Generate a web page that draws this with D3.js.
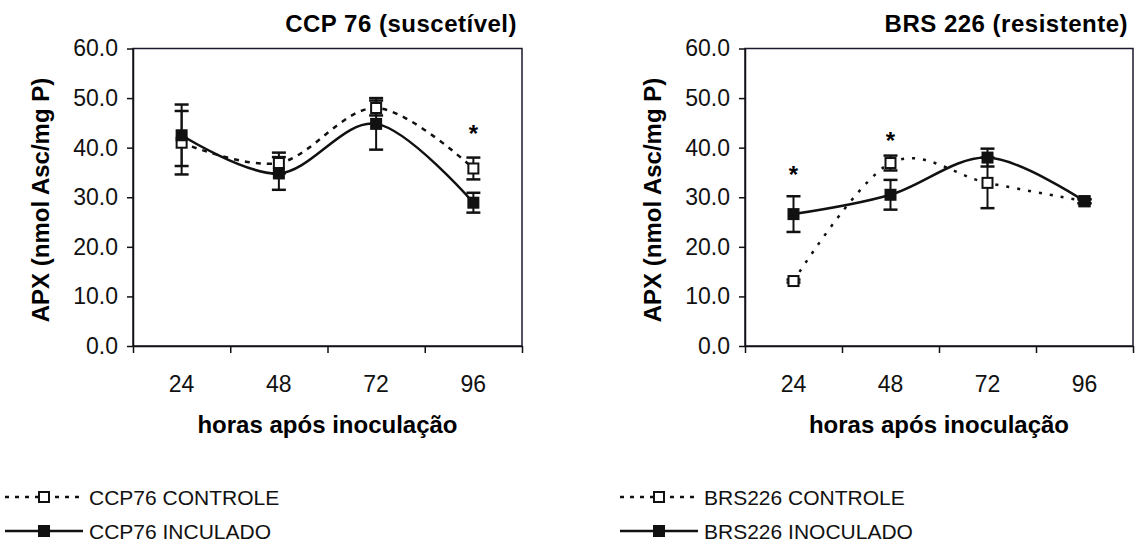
<!DOCTYPE html>
<html>
<head>
<meta charset="utf-8">
<script src="https://cdn.jsdelivr.net/npm/d3@7"></script>
<style>
  body { margin: 0; background: #fff; }
  svg { display: block; font-family: "Liberation Sans", Arial, sans-serif; }
</style>
</head>
<body>
<div id="chart"></div>
<script>
// categories and ticks
const hours = ["24", "48", "72", "96"];
const yTicks = [0, 10, 20, 30, 40, 50, 60];

// CCP 76 (suscetivel)
const ccpControle = [41.0, 36.9, 48.0, 35.8];
const ccpControleErr = [6.4, 2.1, 1.5, 2.2];
const ccpInoculado = [42.5, 34.8, 44.8, 28.9];
const ccpInoculadoErr = [6.2, 3.3, 5.2, 2.0];
const ccpStars = [null, null, null, 44.0];

// BRS 226 (resistente)
const brsControle = [13.1, 36.9, 32.9, 29.2];
const brsControleErr = [0.3, 1.5, 5.1, 0.4];
const brsInoculado = [26.6, 30.5, 38.0, 29.2];
const brsInoculadoErr = [3.6, 3.0, 1.8, 0.4];
const brsStars = [35.7, 42.6, null, null];

const width = 1142, height = 544;
const plotTop = 48.5, plotBottom = 346;

var svg = d3.select("#chart")
  .append("svg")
    .attr("width", width)
    .attr("height", height);

var draw_panel = function(cfg) {
  var g = svg.append("g");

  var x = d3.scaleBand().domain(hours).range([cfg.left, cfg.right]);
  var xTicks = d3.scaleLinear().domain([0, hours.length]).range([cfg.left, cfg.right]);
  var y = d3.scaleLinear().domain([0, 60]).range([plotBottom, plotTop]);

  // plot area border
  g.append("rect")
    .attr("x", cfg.left)
    .attr("y", plotTop)
    .attr("width", cfg.right - cfg.left)
    .attr("height", plotBottom - plotTop)
    .attr("fill", "none")
    .attr("stroke", "#1a1a2e")
    .attr("stroke-width", 1.5);

  // y axis
  var yAxis = g.append("g")
    .attr("transform", "translate(" + cfg.left + ",0)")
    .call(d3.axisLeft(y).tickValues(yTicks).tickFormat(d3.format(".1f")).tickSize(6).tickPadding(9).tickSizeOuter(0));
  yAxis.selectAll("text").style("font-size", "23px").attr("fill", "#111");
  yAxis.selectAll("line, path").attr("stroke", "#111").attr("stroke-width", 1.5);

  // x axis: tick marks between categories
  var xAxis = g.append("g")
    .attr("transform", "translate(0," + plotBottom + ")")
    .call(d3.axisBottom(xTicks).ticks(hours.length).tickFormat("").tickSize(7).tickSizeOuter(0));
  xAxis.selectAll("line, path").attr("stroke", "#111").attr("stroke-width", 1.5);

  // x labels at band centres
  var xLab = g.append("g")
    .attr("transform", "translate(0," + plotBottom + ")")
    .call(d3.axisBottom(x).tickSize(0).tickPadding(30));
  xLab.select(".domain").remove();
  xLab.selectAll("text").style("font-size", "23px").attr("fill", "#111");

  // titles
  g.append("text")
    .attr("x", cfg.right - 5)
    .attr("y", 32)
    .attr("text-anchor", "end")
    .style("font-size", "24px")
    .style("font-weight", "bold")
    .style("letter-spacing", "0.5px")
    .text(cfg.title);

  g.append("text")
    .attr("x", (cfg.left + cfg.right) / 2)
    .attr("y", 433)
    .attr("text-anchor", "middle")
    .style("font-size", "24px")
    .style("font-weight", "bold")
    .text("horas após inoculação");

  g.append("text")
    .attr("transform", "translate(" + (cfg.left - 84) + "," + 200 + ")rotate(-90)")
    .attr("text-anchor", "middle")
    .style("font-size", "24px")
    .style("font-weight", "bold")
    .text("APX (nmol Asc/mg P)");

  var cx = function(i) { return x(hours[i]) + x.bandwidth() / 2; };

  var line = d3.line()
    .curve(d3.curveCardinal.tension(0))
    .x(function(d, i) { return cx(i); })
    .y(function(d) { return y(d); });

  // series
  var series = [
    {vals: cfg.controle, err: cfg.controleErr, dash: cfg.dash, filled: false},
    {vals: cfg.inoculado, err: cfg.inoculadoErr, dash: null, filled: true}
  ];

  series.forEach(function(s) {
    g.append("path")
      .datum(s.vals)
      .attr("fill", "none")
      .attr("stroke", "#111")
      .attr("stroke-width", 2.5)
      .attr("stroke-dasharray", s.dash)
      .attr("d", line);
  });

  series.forEach(function(s) {
    var eb = g.append("g");
    s.vals.forEach(function(v, i) {
      var e = s.err[i];
      eb.append("line")
        .attr("x1", cx(i)).attr("x2", cx(i))
        .attr("y1", y(v + e)).attr("y2", y(v - e))
        .attr("stroke", "#111").attr("stroke-width", 2);
      [v + e, v - e].forEach(function(c) {
        eb.append("line")
          .attr("x1", cx(i) - 7).attr("x2", cx(i) + 7)
          .attr("y1", y(c)).attr("y2", y(c))
          .attr("stroke", "#111").attr("stroke-width", 2.5);
      });
    });
  });

  series.forEach(function(s) {
    g.append("g")
      .selectAll("rect")
      .data(s.vals)
      .enter()
      .append("rect")
        .attr("x", function(d, i) { return cx(i) - (s.filled ? 6 : 5); })
        .attr("y", function(d) { return y(d) - (s.filled ? 6 : 5); })
        .attr("width", s.filled ? 12 : 10)
        .attr("height", s.filled ? 12 : 10)
        .attr("fill", s.filled ? "#111" : "#fff")
        .attr("stroke", "#111")
        .attr("stroke-width", s.filled ? 0 : 2);
  });

  // significance asterisks
  var stars = cfg.stars
    .map(function(v, i) { return {v: v, i: i}; })
    .filter(function(d) { return d.v !== null; });
  g.append("g")
    .selectAll("text")
    .data(stars)
    .enter()
    .append("text")
      .attr("x", function(d) { return cx(d.i); })
      .attr("y", function(d) { return y(d.v) + 14; })
      .attr("text-anchor", "middle")
      .style("font-size", "24px")
      .style("font-weight", "bold")
      .text("*");

  // legend
  var lg = svg.append("g").attr("transform", "translate(" + cfg.legendX + ",0)");
  var rows = [
    {label: cfg.legend[0], dash: "4,6", filled: false, y: 497},
    {label: cfg.legend[1], dash: null, filled: true, y: 531}
  ];
  rows.forEach(function(r) {
    lg.append("line")
      .attr("x1", 0).attr("x2", 78)
      .attr("y1", r.y).attr("y2", r.y)
      .attr("stroke", "#111")
      .attr("stroke-width", 2.5)
      .attr("stroke-dasharray", r.dash);
    lg.append("rect")
      .attr("x", 39 - (r.filled ? 6 : 5))
      .attr("y", r.y - (r.filled ? 6 : 5))
      .attr("width", r.filled ? 12 : 10)
      .attr("height", r.filled ? 12 : 10)
      .attr("fill", r.filled ? "#111" : "#fff")
      .attr("stroke", "#111")
      .attr("stroke-width", r.filled ? 0 : 2);
    lg.append("text")
      .attr("x", 84)
      .attr("y", r.y + 7.5)
      .style("font-size", "21px")
      .attr("fill", "#111")
      .text(r.label);
  });
};

draw_panel({
  left: 133, right: 522,
  title: "CCP 76 (suscetível)",
  controle: ccpControle, controleErr: ccpControleErr,
  inoculado: ccpInoculado, inoculadoErr: ccpInoculadoErr,
  stars: ccpStars,
  dash: "5,6",
  legendX: 5,
  legend: ["CCP76 CONTROLE", "CCP76 INCULADO"]
});

draw_panel({
  left: 745, right: 1133,
  title: "BRS 226 (resistente)",
  controle: brsControle, controleErr: brsControleErr,
  inoculado: brsInoculado, inoculadoErr: brsInoculadoErr,
  stars: brsStars,
  dash: "3,8",
  legendX: 620,
  legend: ["BRS226 CONTROLE", "BRS226 INOCULADO"]
});
</script>
</body>
</html>
